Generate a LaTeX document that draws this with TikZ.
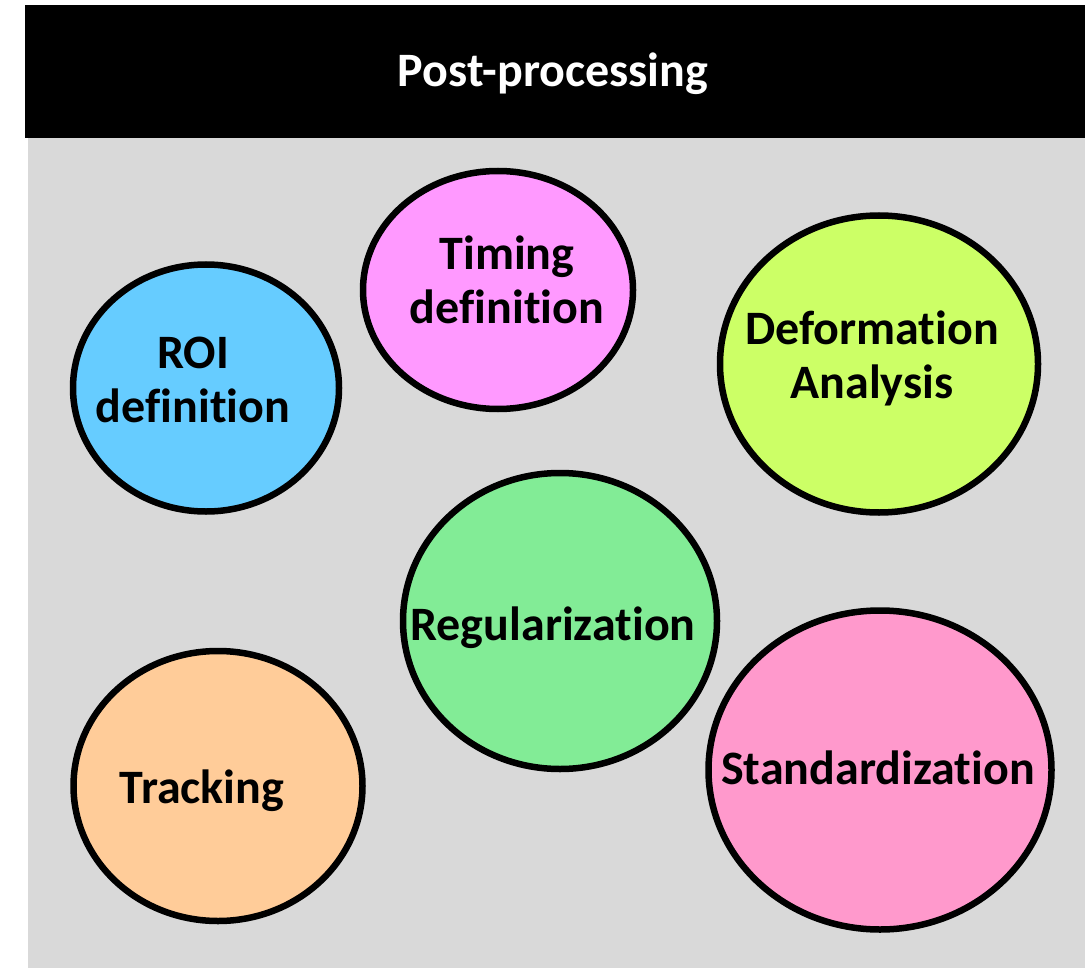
\documentclass[tikz,border=0pt]{standalone}
\usepackage{fontspec}
\setmainfont{Carlito}[Ligatures=NoCommon]
\usetikzlibrary{shapes.geometric}
\definecolor{panelgray}{HTML}{D9D9D9}
\definecolor{roiblue}{HTML}{66CCFF}
\definecolor{timingpink}{HTML}{FF99FF}
\definecolor{deflime}{HTML}{CCFF66}
\definecolor{reggreen}{HTML}{82EC96}
\definecolor{trackpeach}{HTML}{FFCC99}
\definecolor{standpink}{HTML}{FF99CC}
\tikzset{
  bubble/.style={ellipse, draw=black, line width=6.5pt, inner sep=0pt},
  bubtext/.style={align=center, font=\fontsize{48}{54}\selectfont\bfseries, inner sep=0pt},
}
\begin{document}
\begin{tikzpicture}[x=1pt,y=-1pt]
\useasboundingbox (0,0) rectangle (1089,968);
\fill[panelgray] (28,138) rectangle (1085,968);
\fill[black] (25,5) rectangle (1085,138);
\node[bubtext, text=white] (title) at (553,74) {Post-processing};
\node[bubble, fill=roiblue, minimum width=266, minimum height=247] (roi) at (206,388) {};
\node[bubble, fill=timingpink, minimum width=270, minimum height=238] (timing) at (498,290) {};
\node[bubble, fill=deflime, minimum width=318, minimum height=297] (deform) at (879,364) {};
\node[bubble, fill=reggreen, minimum width=314, minimum height=296] (reg) at (560,621) {};
\node[bubble, fill=trackpeach, minimum width=289, minimum height=270] (track) at (218,786) {};
\node[bubble, fill=standpink, minimum width=343, minimum height=319] (stand) at (880,770) {};
\node[bubtext] (roitxt) at (193,380) {ROI\\definition};
\node[bubtext] (timingtxt) at (507,280) {Timing\\definition};
\node[bubtext] (deformtxt) at (872,358) {Deformation\\Analysis};
\node[bubtext] (regtxt) at (553,628) {Regularization};
\node[bubtext] (tracktxt) at (202,791) {Tracking};
\node[bubtext] (standtxt) at (878,768) {Standardization};
\end{tikzpicture}
\end{document}
